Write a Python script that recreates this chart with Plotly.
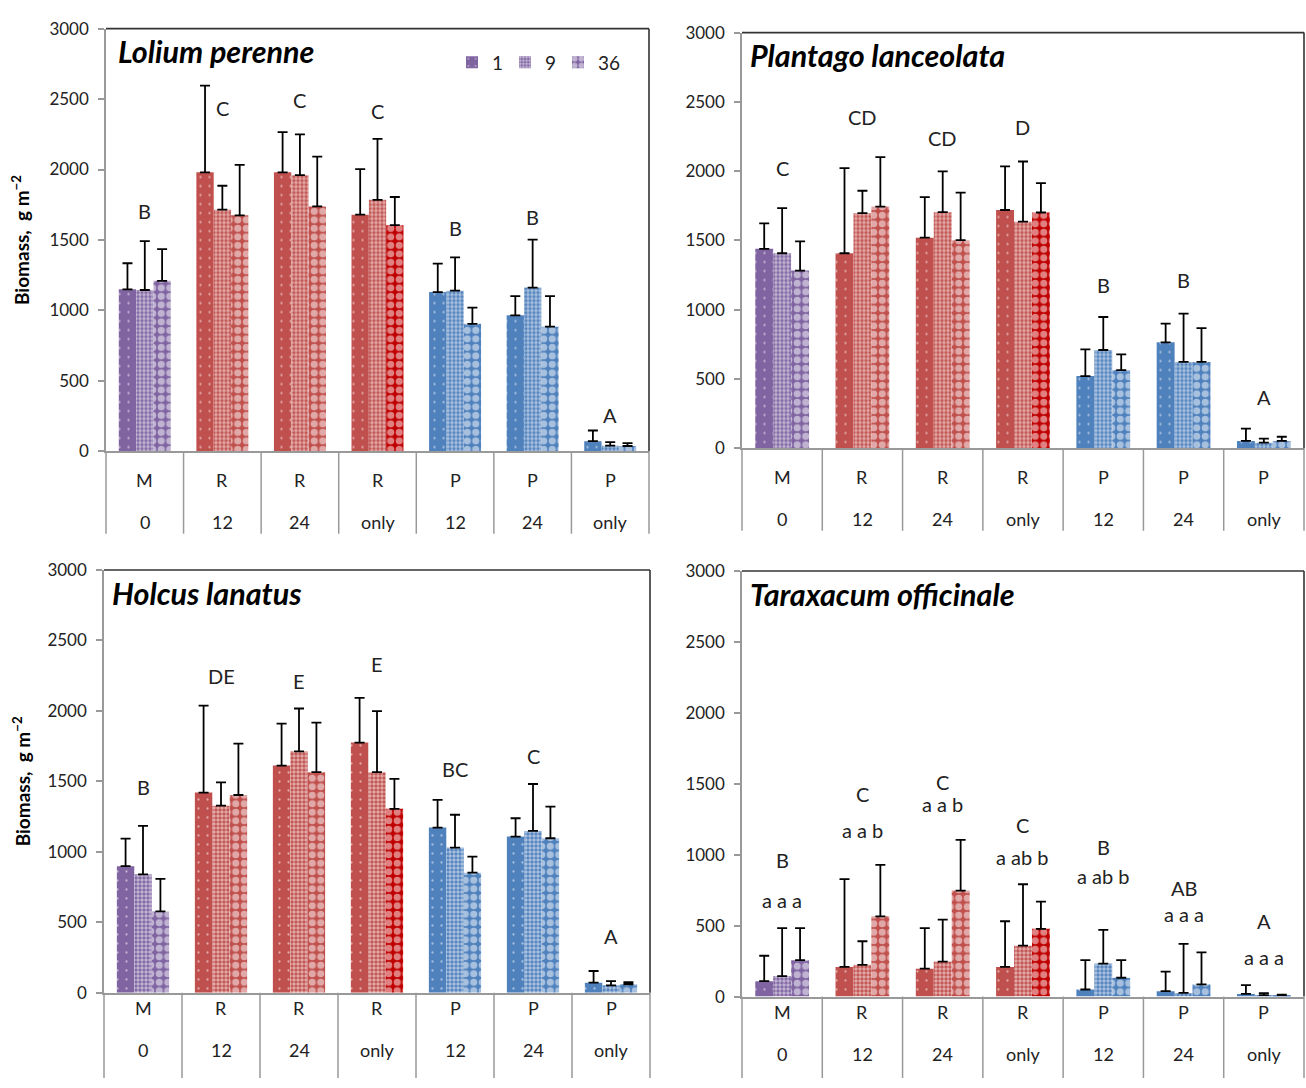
import plotly.graph_objects as go

W, H = 1306, 1088

categories = ["M 0", "R 12", "R 24", "R only", "P 12", "P 24", "P only"]
cat_top = ["M", "R", "R", "R", "P", "P", "P"]
cat_bottom = ["0", "12", "24", "only", "12", "24", "only"]
series_names = ["1", "9", "36"]

species = ["Lolium perenne", "Plantago lanceolata", "Holcus lanatus", "Taraxacum officinale"]

# mean biomass per series (1, 9, 36) for each species
lolium_vals = [[1150, 1980, 1980, 1680, 1130, 965, 72],
               [1145, 1715, 1960, 1785, 1140, 1162, 40],
               [1210, 1675, 1738, 1605, 905, 885, 38]]
lolium_tops = [[1335, 2595, 2265, 2003, 1332, 1102, 148],
               [1492, 1885, 2250, 2218, 1377, 1503, 66],
               [1435, 2033, 2092, 1805, 1020, 1102, 58]]
lolium_letters = ["B", "C", "C", "C", "B", "B", "A"]
lolium_letter_y = [1705, 2436, 2497, 2416, 1583, 1660, 258]

plantago_vals = [[1440, 1408, 1520, 1720, 522, 765, 54],
                 [1408, 1697, 1704, 1636, 710, 624, 41],
                 [1283, 1745, 1502, 1702, 565, 624, 54]]
plantago_tops = [[1623, 2022, 1813, 2035, 715, 900, 142],
                 [1733, 1859, 1998, 2070, 948, 972, 70],
                 [1494, 2102, 1846, 1914, 678, 868, 84]]
plantago_letters = ["C", "CD", "CD", "D", "B", "B", "A"]
plantago_letter_y = [2026, 2391, 2238, 2318, 1181, 1215, 370]

holcus_vals = [[898, 1420, 1612, 1775, 1172, 1108, 71],
               [840, 1327, 1713, 1565, 1030, 1148, 52],
               [577, 1403, 1565, 1305, 852, 1096, 60]]
holcus_tops = [[1094, 2037, 1910, 2093, 1369, 1238, 154],
               [1184, 1493, 2017, 1998, 1263, 1481, 82],
               [808, 1767, 1917, 1517, 965, 1320, 74]]
holcus_letters = ["B", "DE", "E", "E", "BC", "C", "A"]
holcus_letter_y = [1458, 2245, 2214, 2335, 1589, 1680, 403]

taraxacum_vals = [[109, 209, 197, 209, 50, 38, 19],
                  [145, 224, 247, 359, 233, 26, 10],
                  [257, 566, 747, 478, 133, 86, 10]]
taraxacum_tops = [[288, 828, 483, 531, 257, 176, 81],
                  [483, 390, 542, 792, 471, 371, 24],
                  [483, 928, 1104, 669, 257, 312, 14]]
taraxacum_letters = ["B", "C", "C", "C", "B", "AB", "A"]
taraxacum_letter_y = [961, 1425, 1513, 1209, 1054, 764, 531]
taraxacum_sub = ["a a a", "a a b", "a a b", "a ab b", "a ab b", "a a a", "a a a"]
taraxacum_sub_y = [680, 1173, 1359, 983, 847, 585, 276]

all_vals = [lolium_vals, plantago_vals, holcus_vals, taraxacum_vals]
all_tops = [lolium_tops, plantago_tops, holcus_tops, taraxacum_tops]
all_letters = [lolium_letters, plantago_letters, holcus_letters, taraxacum_letters]
all_letter_y = [lolium_letter_y, plantago_letter_y, holcus_letter_y, taraxacum_letter_y]

# colours per category (purple = M, red = R, blue = P); R-only 36 is darker red
PURPLE, RED, BLUE, DRED = "#8064A2", "#C0504D", "#4F81BD", "#C00000"
cat_colors = [PURPLE, RED, RED, RED, BLUE, BLUE, BLUE]
cat_colors_36 = [PURPLE, RED, RED, DRED, BLUE, BLUE, BLUE]

# panel pixel boxes: (left, right, top(3000), bottom(0), separator bottom, title x offset)
panels = [(106, 649, 18, 449, 533, 10),
          (742, 1304, 22, 446, 530, 6),
          (104, 650, 570, 1001, 1088, 6),
          (742, 1304, 571, 1005, 1088, 6)]

FONT = "Lato, Carlito, Calibri, sans-serif"

def px(x):
    return x / W

def py(y):
    return 1 - y / H

legend_ids = ["legend", "legend2", "legend3"]
legend_x = [452, 505, 558]

fig = go.Figure()
layout = dict(width=W, height=H, margin=dict(l=0, r=0, t=0, b=0),
              paper_bgcolor="white", plot_bgcolor="white",
              barmode="group", bargap=0.33, bargroupgap=0,
              showlegend=True,
              font=dict(family=FONT, color="#222"))
for lid, lx in zip(legend_ids, legend_x):
    layout[lid] = dict(orientation="h", x=px(lx), y=py(33), xanchor="left", yanchor="top",
                       font=dict(family=FONT, size=19, color="#222"),
                       bgcolor="rgba(0,0,0,0)", itemwidth=30)
shapes = []
annotations = []

patterns = [dict(shape=".", fgcolor="white", size=9, solidity=0.05, fillmode="overlay"),
            dict(shape=".", fgcolor="white", size=4, solidity=0.6, fillmode="overlay"),
            dict(shape=".", fgcolor="white", size=8.5, solidity=0.55, fillmode="overlay")]

for p in range(4):
    left, right, top, bottom, sepb, tdx = panels[p]
    xa = "x" if p == 0 else f"x{p+1}"
    ya = "y" if p == 0 else f"y{p+1}"
    vals, tops = all_vals[p], all_tops[p]
    for s in range(3):
        v = vals[s]
        err = [t - val for t, val in zip(tops[s], v)]
        col = cat_colors_36 if s == 2 else cat_colors
        fig.add_trace(go.Bar(
            x=categories, y=v, name=series_names[s],
            xaxis=xa, yaxis=ya,
            marker=dict(color=col, pattern=patterns[s], line=dict(width=0)),
            error_y=dict(type="data", symmetric=False, array=err, arrayminus=[0] * 7,
                         color="black", thickness=1.8, width=5),
            showlegend=(p == 0), legend=legend_ids[s], legendgroup=series_names[s],
        ))
    xkey = "xaxis" if p == 0 else f"xaxis{p+1}"
    ykey = "yaxis" if p == 0 else f"yaxis{p+1}"
    layout[xkey] = dict(domain=[px(left), px(right)], anchor=ya, type="category",
                        categoryorder="array", categoryarray=categories,
                        range=[-0.5, 6.5], showticklabels=False, ticks="",
                        showline=True, linecolor="#999", linewidth=1.5, showgrid=False,
                        zeroline=False, fixedrange=True)
    layout[ykey] = dict(domain=[py(bottom), py(top)], anchor=xa, range=[0, 3000],
                        tickvals=[0, 500, 1000, 1500, 2000, 2500, 3000],
                        ticks="outside", ticklen=6, tickcolor="#999", tickwidth=1.5,
                        showline=True, linecolor="#999", linewidth=1.5, showgrid=False,
                        zeroline=False, ticklabelstandoff=6,
                        tickfont=dict(family=FONT, size=17, color="#222"), fixedrange=True)
    # frame: top and right dark lines
    shapes.append(dict(type="line", xref="paper", yref="paper", x0=px(left), x1=px(right),
                       y0=py(top), y1=py(top), line=dict(color="#333", width=1.6)))
    shapes.append(dict(type="line", xref="paper", yref="paper", x0=px(right), x1=px(right),
                       y0=py(top), y1=py(bottom), line=dict(color="#333", width=1.6)))
    # category separators below the axis
    for i in range(8):
        xx = left + (right - left) * i / 7
        shapes.append(dict(type="line", xref="paper", yref="paper", x0=px(xx), x1=px(xx),
                           y0=py(bottom), y1=py(sepb), line=dict(color="#999", width=1.5)))
    # category labels
    for i in range(7):
        annotations.append(dict(x=i, y=py(bottom + 29), xref=xa, yref="paper", text=cat_top[i],
                                showarrow=False, font=dict(family=FONT, size=18, color="#222")))
        annotations.append(dict(x=i, y=py(bottom + 72), xref=xa, yref="paper", text=cat_bottom[i],
                                showarrow=False, font=dict(family=FONT, size=18, color="#222")))
    # significance letters
    for i in range(7):
        annotations.append(dict(x=i, y=all_letter_y[p][i], xref=xa, yref=ya, text=all_letters[p][i],
                                showarrow=False, font=dict(family=FONT, size=20, color="#222")))
    if p == 3:
        for i in range(7):
            annotations.append(dict(x=i, y=taraxacum_sub_y[i], xref=xa, yref=ya, text=taraxacum_sub[i],
                                    showarrow=False, font=dict(family=FONT, size=20, color="#222")))
    # species title
    annotations.append(dict(x=px(left + tdx), y=py(top + 23), xref="paper", yref="paper",
                            xanchor="left", yanchor="middle", showarrow=False,
                            text=f"<b><i>{species[p]}</i></b>",
                            font=dict(family=FONT, size=30.5, color="black")))
    # y-axis title on left panels
    if p in (0, 2):
        annotations.append(dict(x=px(21), y=py((top + bottom) / 2), xref="paper", yref="paper",
                                xanchor="center", yanchor="middle",
                                textangle=-90, showarrow=False,
                                text="<b>Biomass,  g m<sup>−2</sup></b>",
                                font=dict(family=FONT, size=19, color="black")))

layout["shapes"] = shapes
layout["annotations"] = annotations
fig.update_layout(**layout)

fig.write_html("out.html")
